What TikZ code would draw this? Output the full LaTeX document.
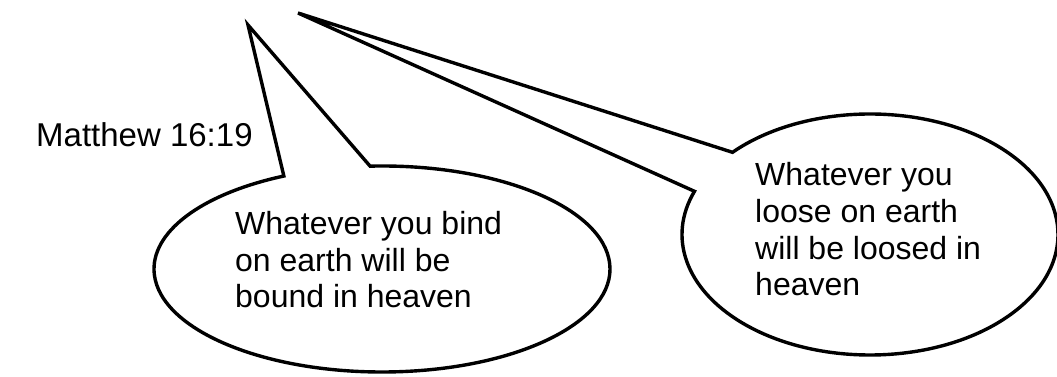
\documentclass[tikz,border=0pt]{standalone}
\usepackage{fontspec}
\setmainfont{Liberation Sans}
\usetikzlibrary{calc}

\begin{document}
\begin{tikzpicture}[
    x=1pt, y=1pt,
    bubble/.style={draw, line width=3.4pt, fill=white},
    quote/.style={inner sep=0pt, anchor=base west, align=left,
                  font=\fontsize{32}{36.7}\selectfont}
]
    \useasboundingbox (0,0) rectangle (1057,377);

    \coordinate (Bc) at (382,108);
    \coordinate (Bt) at (248,352);
    \coordinate (Lc) at (870,142.5);
    \coordinate (Lt) at (298,364);

    \draw[bubble] ([shift={(93:228 and 103)}]Bc)
        arc[start angle=93, end angle=-244.5, x radius=228, y radius=103]
        -- (Bt) -- cycle;
    \draw[bubble] ([shift={(137:188 and 120.5)}]Lc)
        arc[start angle=137, end angle=-201, x radius=188, y radius=120.5]
        -- (Lt) -- cycle;

    % base anchor sits on the last line
    \node[quote, font=\fontsize{33}{38}\selectfont] (M) at (36,230) {Matthew 16:19};
    \node[quote] (B) at (235,69) {Whatever you bind\\on earth will be\\bound in heaven};
    \node[quote] (L) at (755,81) {Whatever you\\loose on earth\\will be loosed in\\heaven};

\end{tikzpicture}
\end{document}
